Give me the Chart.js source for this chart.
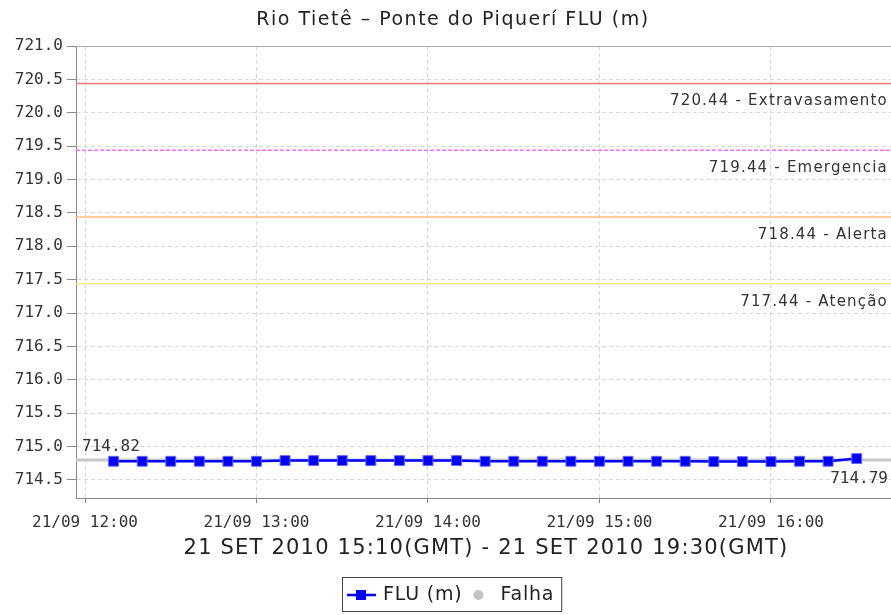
<!DOCTYPE html>
<html>
<head>
<meta charset="utf-8">
<script src="https://cdn.jsdelivr.net/npm/chart.js@4.4.1/dist/chart.umd.min.js"></script>
<style>
  html, body { margin: 0; padding: 0; background: #fff; }
  #wrap { width: 891px; height: 615px; }
</style>
</head>
<body>
<div id="wrap"><canvas id="myChart" width="891" height="615"></canvas></div>
<script>
'use strict';

// reading times (local), every 10 minutes
var times = ['12:10', '12:20', '12:30', '12:40', '12:50', '13:00', '13:10', '13:20', '13:30',
    '13:40', '13:50', '14:00', '14:10', '14:20', '14:30', '14:40', '14:50', '15:00',
    '15:10', '15:20', '15:30', '15:40', '15:50', '16:00', '16:10', '16:20', '16:30'];
var levels = [714.78, 714.78, 714.78, 714.78, 714.78, 714.78, 714.79, 714.79, 714.79,
    714.79, 714.79, 714.79, 714.79, 714.78, 714.78, 714.78, 714.78, 714.78,
    714.78, 714.78, 714.78, 714.775, 714.775, 714.775, 714.78, 714.78, 714.82];
var refLevel = 714.80;

var limitValues = [720.44, 719.44, 718.44, 717.44];
var limitNames = ['Extravasamento', 'Emergencia', 'Alerta', 'Atenção'];
var limitColors = ['rgb(255,120,120)', 'rgb(255,110,255)', 'rgb(255,190,120)', 'rgb(255,230,140)'];

var hourTicks = ['12:00', '13:00', '14:00', '15:00', '16:00'];
var yTicks = [714.5, 715.0, 715.5, 716.0, 716.5, 717.0, 717.5, 718.0, 718.5, 719.0, 719.5, 720.0, 720.5, 721.0];
var maxLabel = '714.82';
var lastLabel = '714.79';

function toMin(t) {
    var p = t.split(':');
    return (parseInt(p[0], 10) - 12) * 60 + parseInt(p[1], 10);
}
function fmtMin(m) {
    var h = 12 + Math.floor(m / 60);
    var mm = m % 60;
    return '21/09 ' + h + ':' + (mm < 10 ? '0' : '') + mm;
}

var points = times.map(function (t, i) { return {x: toMin(t), y: levels[i]}; });
var xMin = -3.15, xMax = 282;

var mono = "'DejaVu Sans Mono', monospace";
var sans = "'DejaVu Sans', sans-serif";

var extras = {
    id: 'extras',
    beforeDatasetsDraw: function (chart) {
        var ctx = chart.ctx, a = chart.chartArea, ys = chart.scales.y;
        ctx.save();
        // gray reference line
        var gy = ys.getPixelForValue(refLevel);
        ctx.strokeStyle = 'rgb(200,200,200)';
        ctx.lineWidth = 3;
        ctx.beginPath(); ctx.moveTo(a.left, gy); ctx.lineTo(a.right, gy); ctx.stroke();
        // limit lines
        limitValues.forEach(function (v, i) {
            var y = ys.getPixelForValue(v);
            ctx.strokeStyle = limitColors[i];
            ctx.lineWidth = 1.5;
            ctx.setLineDash(i === 1 ? [4, 2] : []);
            ctx.beginPath(); ctx.moveTo(a.left, y); ctx.lineTo(a.right, y); ctx.stroke();
            ctx.setLineDash([]);
            ctx.fillStyle = '#333';
            ctx.font = '15px ' + sans;
            ctx.letterSpacing = '1.2px';
            ctx.textAlign = 'right';
            ctx.textBaseline = 'middle';
            ctx.fillText(v.toFixed(2) + ' - ' + limitNames[i], a.right - 3, y + 18);
            ctx.letterSpacing = '0px';
        });
        // plot outline
        ctx.strokeStyle = '#aaa';
        ctx.lineWidth = 1;
        ctx.beginPath();
        ctx.moveTo(a.left, a.top + 0.5); ctx.lineTo(a.right, a.top + 0.5);
        ctx.stroke();
        ctx.restore();
    },
    afterDraw: function (chart) {
        var ctx = chart.ctx, a = chart.chartArea, ys = chart.scales.y;
        ctx.save();
        ctx.fillStyle = '#333';
        ctx.font = '16px ' + mono;
        ctx.textBaseline = 'alphabetic';
        ctx.textAlign = 'left';
        ctx.fillText(maxLabel, a.left + 6, ys.getPixelForValue(refLevel) - 9);
        ctx.textAlign = 'right';
        ctx.fillText(lastLabel, a.right - 3, ys.getPixelForValue(refLevel) + 23);

        // title
        ctx.fillStyle = '#222';
        ctx.textAlign = 'center';
        ctx.textBaseline = 'middle';
        ctx.font = '19px ' + sans;
        ctx.letterSpacing = '1.5px';
        ctx.fillText('Rio Tietê – Ponte do Piquerí FLU (m)', 453, 20);
        // x axis title
        ctx.font = '21px ' + sans;
        ctx.letterSpacing = '1.2px';
        ctx.fillText('21 SET 2010 15:10(GMT) - 21 SET 2010 19:30(GMT)', 486, 549);

        // legend
        ctx.font = '19px ' + sans;
        ctx.letterSpacing = '0.8px';
        ctx.textAlign = 'left';
        var t1 = 'FLU (m)', t2 = 'Falha';
        var w1 = ctx.measureText(t1).width, w2 = ctx.measureText(t2).width;
        var bx = 342, by = 577, bh = 34;
        var gx = bx + 41 + w1 + 16;
        var boxW = gx + 22 + w2 + 7 - bx;
        ctx.strokeStyle = '#444';
        ctx.lineWidth = 1;
        ctx.strokeRect(bx + 0.5, by + 0.5, boxW, bh);
        var cy = by + bh / 2 + 1;
        ctx.strokeStyle = 'rgb(0,0,255)';
        ctx.lineWidth = 2.5;
        ctx.beginPath(); ctx.moveTo(bx + 5, cy); ctx.lineTo(bx + 34, cy); ctx.stroke();
        ctx.fillStyle = 'rgb(0,0,255)';
        ctx.fillRect(bx + 14, cy - 5, 10, 10);
        ctx.fillStyle = '#222';
        ctx.fillText(t1, bx + 41, cy);
        ctx.fillStyle = 'rgb(195,195,195)';
        ctx.beginPath(); ctx.arc(gx, cy, 5, 0, Math.PI * 2); ctx.fill();
        ctx.fillStyle = '#222';
        ctx.fillText(t2, gx + 22, cy);
        ctx.restore();
    }
};

var ctx = document.getElementById('myChart').getContext('2d');
var myChart = new Chart(ctx, {
    type: 'line',
    data: {
        datasets: [{
            label: 'FLU (m)',
            data: points,
            borderColor: 'rgb(0,0,255)',
            backgroundColor: 'rgb(0,0,255)',
            borderWidth: 2.5,
            pointStyle: 'rect',
            pointRadius: 7,
            pointBorderColor: 'rgb(100,100,255)',
            pointBorderWidth: 1,
            tension: 0
        }]
    },
    options: {
        responsive: false,
        animation: false,
        layout: {autoPadding: false, padding: {top: 46, left: 0, right: 0, bottom: 0}},
        plugins: {
            legend: {display: false},
            tooltip: {enabled: false}
        },
        scales: {
            x: {
                type: 'linear',
                min: xMin,
                max: xMax,
                afterBuildTicks: function (scale) {
                    scale.ticks = hourTicks.map(function (t) { return {value: toMin(t)}; });
                },
                afterFit: function (scale) { scale.height = 117; },
                ticks: {
                    autoSkip: false,
                    maxRotation: 0,
                    padding: 10,
                    color: '#333',
                    font: {family: mono, size: 16},
                    callback: function (v) { return fmtMin(v); }
                },
                grid: {
                    color: 'rgb(215,215,215)',
                    tickColor: '#888',
                    tickLength: 5,
                    tickBorderDash: [],
                    drawOnChartArea: true
                },
                border: {color: '#888', width: 1, dash: [4, 3]}
            },
            y: {
                min: 714.23,
                max: 721.0,
                afterBuildTicks: function (scale) {
                    scale.ticks = yTicks.map(function (v) { return {value: v}; });
                },
                afterFit: function (scale) { scale.width = 76; },
                ticks: {
                    padding: 4,
                    color: '#333',
                    font: {family: mono, size: 16},
                    callback: function (v) { return v.toFixed(1); }
                },
                grid: {
                    color: 'rgb(215,215,215)',
                    tickColor: '#888',
                    tickLength: 9,
                    tickBorderDash: []
                },
                border: {color: '#888', width: 1, dash: [4, 3]}
            }
        }
    },
    plugins: [extras]
});
</script>
</body>
</html>
